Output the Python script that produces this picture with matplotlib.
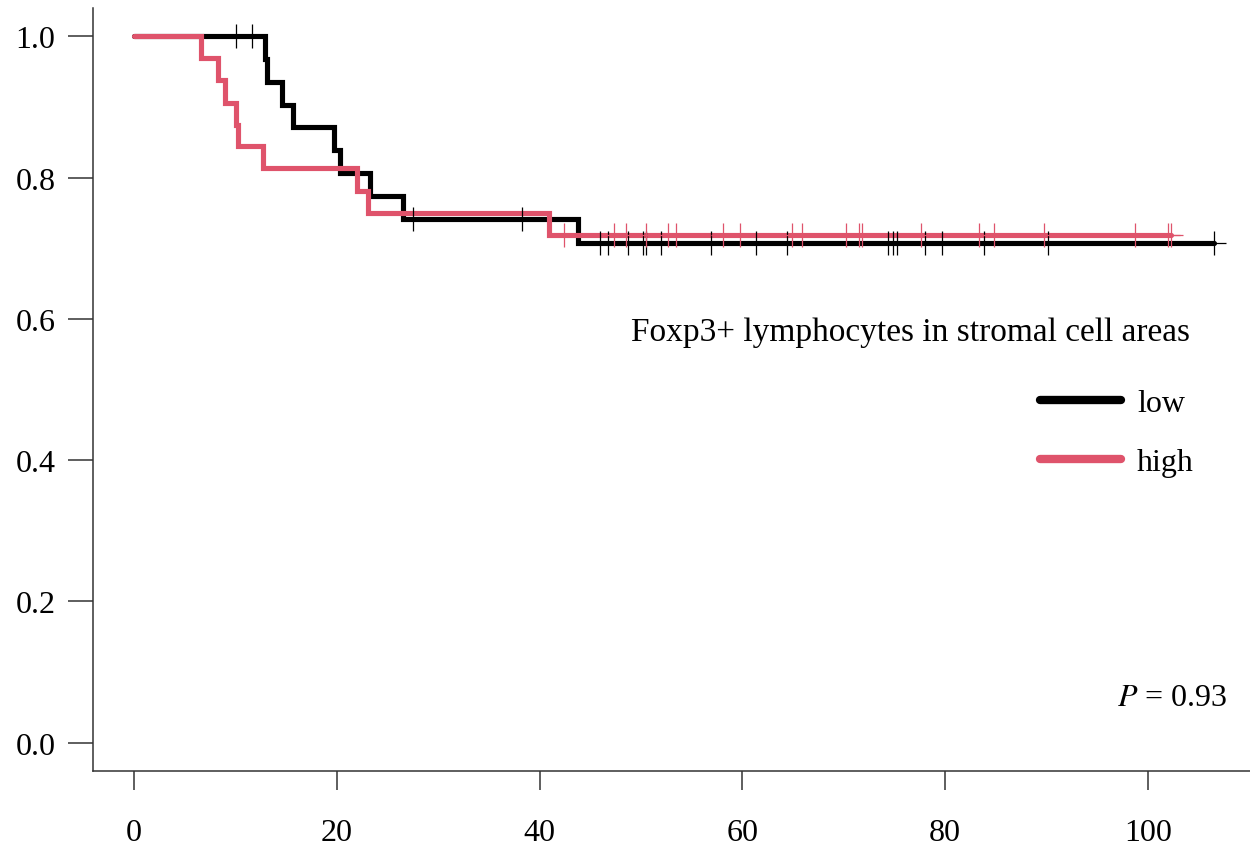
import matplotlib
matplotlib.use("Agg")
import matplotlib.pyplot as plt
from matplotlib.lines import Line2D

plt.rcParams['font.family'] = ['Liberation Serif', 'DejaVu Serif']
plt.rcParams['mathtext.fontset'] = 'stix'

# step curves (time, survival)
low_times = [0, 12.9, 13.1, 14.6, 15.7, 19.7, 20.3, 23.3, 26.5, 43.8, 106.5]
low_surv = [1.0, 0.968, 0.935, 0.903, 0.871, 0.839, 0.806, 0.774, 0.742, 0.707, 0.707]
high_times = [0, 6.6, 8.25, 9.0, 10.1, 10.3, 12.75, 22.0, 23.1, 40.9, 102.3]
high_surv = [1.0, 0.969, 0.938, 0.906, 0.875, 0.844, 0.813, 0.781, 0.75, 0.719, 0.719]

# censored times
low_cens_t = [10.1, 11.6, 27.5, 38.3, 46.0, 46.7, 48.7, 50.2, 50.5, 52.0, 56.9, 61.3,
              64.4, 74.4, 74.9, 75.2, 78.0, 79.7, 83.8, 90.1, 106.5]
high_cens_t = [42.4, 47.3, 48.5, 50.5, 52.7, 53.5, 58.1, 59.8, 64.9, 65.9, 70.2, 71.5,
               71.8, 77.6, 83.3, 84.8, 89.7, 98.7, 102.0, 102.3]

labels = ['low', 'high']
colors = ['black', '#DF536B']
legend_title = 'Foxp3+ lymphocytes in stromal cell areas'
p_text = r'$P$ = 0.93'
xticks = [0, 20, 40, 60, 80, 100]
yticks = [0.0, 0.2, 0.4, 0.6, 0.8, 1.0]


def surv_at(times, surv, t):
    s = surv[0]
    for tt, ss in zip(times, surv):
        if tt <= t:
            s = ss
    return s


W, H = 1250, 853
fig = plt.figure(figsize=(W / 100, H / 100), dpi=100)
ax = fig.add_axes([93 / W, 81 / H, 1157 / W, 763 / H])

curves = [(low_times, low_surv, low_cens_t), (high_times, high_surv, high_cens_t)]
for (tm, sv, ct), col in zip(curves, colors):
    ax.step(tm, sv, where='post', color=col, lw=3.7, solid_capstyle='round',
            solid_joinstyle='miter', zorder=3)
    ax.plot(ct, [surv_at(tm, sv, t) for t in ct], ls='none', marker='+',
            ms=17, mew=0.9, color=col, zorder=4)

ax.set_xlim(-4.04, 110.06)
ax.set_ylim(-0.04, 1.04)
ax.set_xticks(xticks)
ax.set_yticks(yticks)
ax.set_yticklabels(['%.1f' % v for v in yticks])

for s in ['top', 'right']:
    ax.spines[s].set_visible(False)
for s in ['left', 'bottom']:
    ax.spines[s].set_color('#333333')
    ax.spines[s].set_linewidth(1.1)
ax.tick_params(axis='x', length=14, width=1.1, color='#333333', pad=20, labelsize=23)
ax.tick_params(axis='y', length=18, width=1.1, color='#333333', pad=9, labelsize=23)

# legend title drawn as its own text, entries through the legend
fig.text(1190 / W, 1 - 333 / H, legend_title, ha='right', va='center', fontsize=24)
handles = [Line2D([], [], color=c, lw=6, solid_capstyle='round') for c in colors]
leg = ax.legend(handles, labels, frameon=False, fontsize=23,
                loc='upper right', bbox_to_anchor=(1194 / W, 1 - 390 / H),
                bbox_transform=fig.transFigure, handlelength=2.55, handletextpad=0.5,
                labelspacing=0.92, borderaxespad=0, borderpad=0)

fig.text(1117 / W, 1 - 699 / H, p_text, ha='left', va='center', fontsize=23)

fig.savefig('out.png', dpi=100)
